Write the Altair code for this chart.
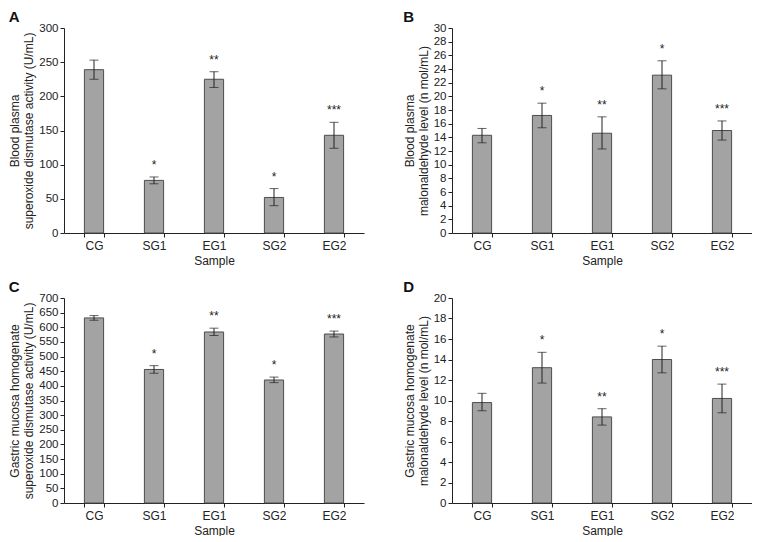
import altair as alt
import pandas as pd

samples = ["CG", "SG1", "EG1", "SG2", "EG2"]
stars = ["", "*", "**", "*", "***"]

a_mean = [239, 77, 225, 52, 143]
a_lo = [225, 72, 213, 40, 124]
a_hi = [253, 82, 236, 65, 162]

b_mean = [14.3, 17.2, 14.6, 23.1, 15.0]
b_lo = [13.2, 15.4, 12.3, 21.1, 13.6]
b_hi = [15.3, 19.0, 17.0, 25.2, 16.4]

c_mean = [632, 456, 584, 420, 577]
c_lo = [624, 443, 572, 411, 567]
c_hi = [640, 469, 597, 430, 587]

d_mean = [9.8, 13.2, 8.4, 14.0, 10.2]
d_lo = [9.0, 11.7, 7.6, 12.7, 8.8]
d_hi = [10.7, 14.7, 9.2, 15.3, 11.6]

FONT = "Liberation Sans"
W, H = 300, 205
INK = "#222222"


def panel(letter, mean, lo, hi, ymax, step, ytitle):
    df = pd.DataFrame({"Sample": samples, "mean": mean, "lo": lo, "hi": hi, "star": stars})
    x = alt.X("Sample:N", sort=samples, title="Sample",
              scale=alt.Scale(paddingInner=0.68, paddingOuter=0.34),
              axis=alt.Axis(labelAngle=0, tickBand="extent", tickSize=4,
                            labelPadding=3, titlePadding=4))
    yscale = alt.Scale(domain=[0, ymax], nice=False)
    yaxis = alt.Axis(values=list(range(0, ymax + 1, step)), tickSize=4, grid=False,
                     labelPadding=2, titlePadding=3, labelOverlap=False,
                     labelFontSize=11.5)

    def Y(f):
        return alt.Y(f, scale=yscale, axis=yaxis, title=ytitle)

    base = alt.Chart(df)
    bars = base.mark_bar(color="#a3a3a3", stroke="#4d4d4d", strokeWidth=1).encode(
        x=x, y=Y("mean:Q"))
    rule = base.mark_rule(color=INK, strokeWidth=1).encode(
        x=x, y=Y("lo:Q"), y2="hi:Q")
    cap_lo = base.mark_tick(color=INK, thickness=1, size=9, orient="horizontal").encode(
        x=x, y=Y("lo:Q"))
    cap_hi = base.mark_tick(color=INK, thickness=1, size=9, orient="horizontal").encode(
        x=x, y=Y("hi:Q"))
    txt = base.mark_text(font=FONT, fontSize=12, dy=-5, baseline="bottom", color=INK).encode(
        x=x, y=Y("hi:Q"), text="star:N")
    return alt.layer(bars, rule, cap_lo, cap_hi, txt).properties(
        width=W, height=H,
        title=alt.TitleParams(letter, anchor="start", frame="bounds", fontSize=15,
                              fontWeight="bold", font=FONT, offset=-3,
                              color="#111111"))


pa = panel("A", a_mean, a_lo, a_hi, 300, 50, ["Blood plasma", "superoxide dismutase activity (U/mL)"])
pb = panel("B", b_mean, b_lo, b_hi, 30, 2, ["Blood plasma", "malonaldehyde level (n mol/mL)"])
pc = panel("C", c_mean, c_lo, c_hi, 700, 50, ["Gastric mucosa homogenate", "superoxide dismutase activity (U/mL)"])
pd_ = panel("D", d_mean, d_lo, d_hi, 20, 2, ["Gastric mucosa homogenate", "malonaldehyde level (n mol/mL)"])

chart = alt.vconcat(
    alt.hconcat(pa, pb, spacing=39),
    alt.hconcat(pc, pd_, spacing=39),
    spacing=14,
).properties(
    padding={"left": 0, "top": 2, "right": 0, "bottom": 0}
).configure(
    background="white"
).configure_view(stroke=None).configure_axis(
    domainColor=INK, tickColor=INK, labelColor=INK, titleColor=INK,
    labelFont=FONT, titleFont=FONT, labelFontSize=12, titleFontSize=12,
    titleFontWeight="normal", domainWidth=1, tickWidth=1,
)

chart.save("out.html", embed_options={"renderer": "svg", "actions": False})
